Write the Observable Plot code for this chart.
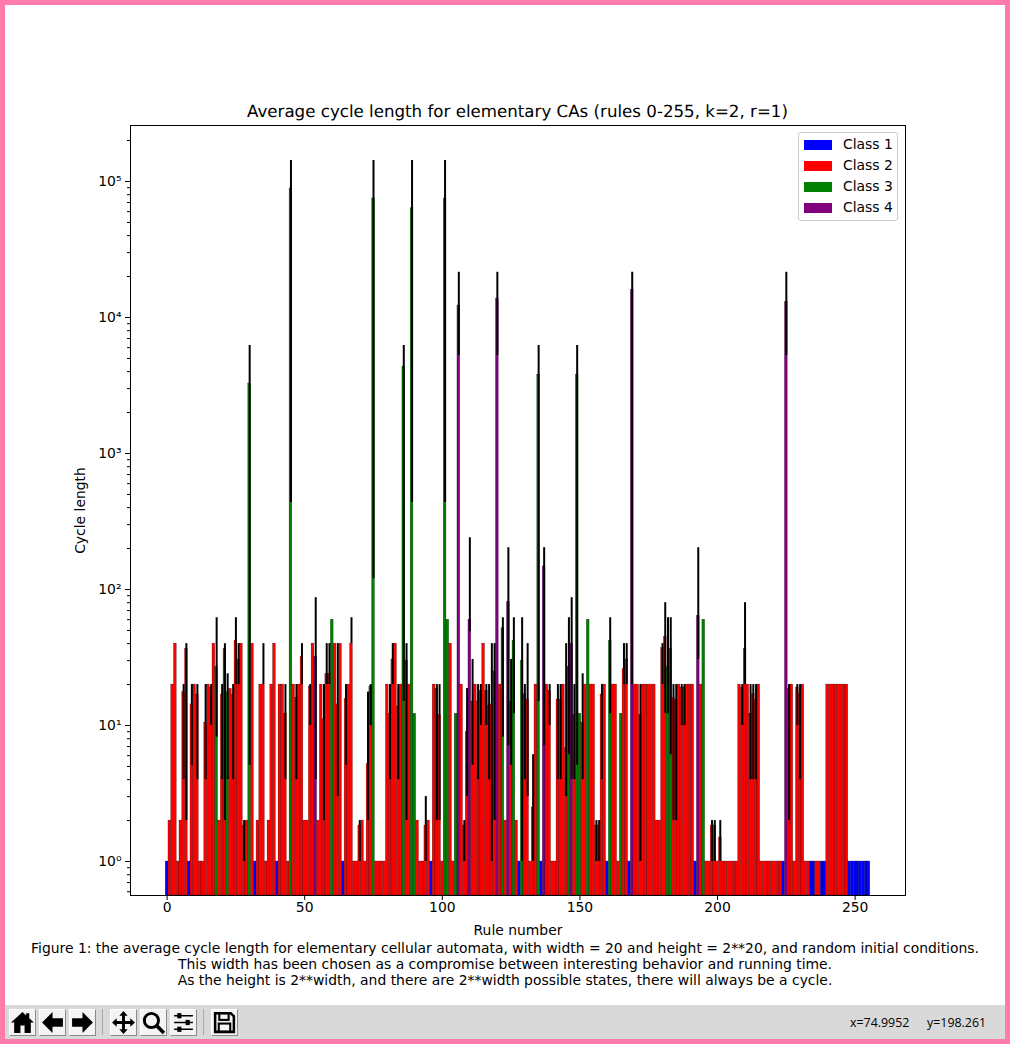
<!DOCTYPE html>
<html>
<head>
<meta charset="utf-8">
<script src="https://cdn.jsdelivr.net/npm/d3@7"></script>
<script src="https://cdn.jsdelivr.net/npm/@observablehq/plot@0.6"></script>
<style>
  html, body { margin: 0; padding: 0; background: #fff; }
  body { width: 1010px; height: 1044px; position: relative; overflow: hidden; font-family: "DejaVu Sans", sans-serif; color: #000; }
  #frame { position: absolute; left: 0; top: 0; width: 1000px; height: 1034px; border: 5px solid #ff7bac; background: #fff; }
  #chart { position: absolute; left: 5px; top: 110px; }
  #title { position: absolute; left: 130px; width: 775px; top: 101px; text-align: center; font-size: 16.67px; line-height: 22px; text-rendering: geometricPrecision; white-space: nowrap; }
  #caption { position: absolute; left: 5px; width: 1000px; top: 940px; text-align: center; font-size: 13.9px; line-height: 16px; }
  #legend { position: absolute; left: 798px; top: 132px; width: 98px; height: 87px; border: 1px solid #ccc; border-radius: 3px; background: rgba(255,255,255,.8); }
  .lg { position: absolute; left: 5px; height: 21px; font-size: 13.9px; line-height: 21px; white-space: nowrap; }
  .lg i { display: inline-block; width: 28px; height: 10px; margin-right: 11px; vertical-align: -1px; }
  #toolbar { position: absolute; left: 5px; top: 1005px; width: 1000px; height: 34px; background: #d9d9d9; }
  .btn { position: absolute; top: 4px; width: 25px; height: 25px; background: #f4f4f4; border: 1px solid; border-color: #fff #8a8a8a #8a8a8a #fff; }
  .sep { position: absolute; top: 4px; width: 1px; height: 26px; background: #aaa; }
  .status { position: absolute; top: 9px; font-family: "Open Sans", sans-serif; font-size: 12.4px; line-height: 17px; color: #000; }
</style>
</head>
<body>
<div id="frame"></div>
<div id="title">Average cycle length for elementary CAs (rules 0-255, k=2, r=1)</div>
<div id="chart"></div>
<div id="legend"></div>
<div id="caption">Figure 1: the average cycle length for elementary cellular automata, with width = 20 and height = 2**20, and random initial conditions.<br>This width has been chosen as a compromise between interesting behavior and running time.<br>As the height is 2**width, and there are 2**width possible states, there will always be a cycle.</div>
<div id="toolbar"></div>
<script>
// Mean cycle length for each rule, ten rules to a line (0-255).
const meanLength = [
  1, 2, 20, 40, 1, 2, 17.6, 36.6, 1, 14.3,
  20, 16.9, 1, 1, 10.5, 20, 19, 40, 27, 2,
  16.9, 36.6, 17.6, 18.6, 16.9, 42, 30.6, 40, 1.84, 2,
  3270, 40, 1, 2, 20, 20, 1, 2, 20, 40,
  1, 20, 20, 12.2, 1, 88900, 20, 16, 20, 32,
  2, 2, 19.4, 40, 32, 2, 20, 11.1, 24, 24,
  60, 40, 14.3, 40, 1, 15.7, 20, 40, 1, 1,
  1.84, 2, 1, 5.2, 19.4, 75000, 1, 1, 1, 1,
  20, 12.2, 30.6, 40, 13.8, 20, 4360, 30, 20, 63500,
  12.2, 2, 1, 1, 1.84, 2, 1, 20, 18.6, 12,
  1, 75000, 60, 40, 1, 12.2, 12250, 20, 1.84, 9,
  60, 15, 20, 15, 18, 40, 18, 14, 14.3, 25,
  13800, 20, 52, 2, 81, 15, 42, 2, 1, 30,
  17, 15.5, 1, 2.5, 20, 3800, 1, 148, 20, 18,
  1, 1, 15.5, 15.5, 20, 6.8, 27, 40, 12, 3800,
  12.2, 10.5, 20, 60, 20, 20, 1.84, 1.84, 16.9, 20,
  1, 42, 20, 20, 1, 12.2, 26, 30.6, 1, 16000,
  20, 20, 12, 20, 20, 20, 20, 20, 2, 2,
  37, 45, 27, 36.6, 16, 15.5, 20, 19, 19, 20,
  20, 20, 1, 64, 20, 60, 1, 1, 1.84, 1.84,
  1, 1.5, 1, 1, 1, 1, 1, 1, 20, 19,
  36.6, 20, 12.2, 17, 15.5, 20, 1, 1, 1, 1,
  1, 1, 1, 1, 1, 13000, 18.6, 20, 1, 19,
  17, 20, 1, 1, 1, 1, 1, 1, 1, 1,
  20, 20, 20, 20, 20, 20, 20, 20, 1, 1,
  1, 1, 1, 1, 1, 1
];
// Wolfram class of the rules that are not class 2.
const class1Rules = [0, 8, 32, 40, 64, 96, 128, 136, 160, 168, 192, 224, 234, 235, 238, 239, 248, 249, 250, 251, 252, 253, 254, 255];
const class3Rules = [18, 22, 30, 45, 60, 75, 86, 89, 90, 101, 102, 105, 122, 126, 129, 135, 146, 149, 150, 153, 161, 165, 182, 183, 195];
const class4Rules = [54, 106, 110, 120, 124, 137, 147, 169, 193, 225];

// Error bars: rule, lower end, upper end.
const errRules = [6, 7, 9, 11, 14, 16, 18, 20, 21, 22, 24, 25, 26, 28, 30, 35, 43, 45, 47, 49, 52, 54, 57, 58, 59, 62, 65, 67, 70, 73, 74, 75, 81, 82, 84, 86, 87, 89, 94, 98, 99, 101, 106, 108, 109, 110, 111, 113, 114, 116, 117, 118, 119, 120, 122, 124, 125, 126, 129, 130, 131, 133, 135, 137, 139, 142, 143, 145, 146, 147, 148, 149, 151, 156, 157, 158, 161, 166, 167, 169, 172, 180, 181, 182, 183, 184, 185, 187, 188, 193, 198, 199, 201, 209, 210, 212, 213, 214, 225, 226, 229, 230];
const errLow = [4, 2, 5.1, 4, 4, 10, 8.2, 4, 2, 4, 4, 20, 20, 1, 5.1, 20, 4, 437, 4, 20, 10, 4, 2, 20, 20, 3, 5.1, 40, 1, 2, 10, 120, 4, 20, 4, 15, 2, 437, 1, 2, 2, 437, 5250, 1, 3, 49, 5.1, 4, 10, 10, 4, 1, 2, 5250, 8.2, 7.1, 5.1, 12.2, 1, 4, 3, 1, 15, 7.1, 10, 4, 4, 3, 6.1, 4, 4, 5.1, 4, 1, 1, 4, 12.2, 20, 20, 20, 1, 20, 12.2, 12.2, 6.1, 2, 2, 10, 10, 30.6, 1, 1, 1, 10, 20, 4, 4, 4, 5250, 2, 10, 4];
const errHigh = [20, 40, 20, 20, 20, 20, 62, 20, 40, 24, 20, 62, 40, 2, 6226, 40, 20, 142600, 20, 40, 20, 87, 20, 40, 40, 40, 20, 62, 2, 17.6, 20, 142600, 20, 40, 20, 6226, 40, 142600, 3, 20, 20, 142600, 21500, 2, 18.7, 240, 30.6, 20, 20, 20, 20, 40, 40, 21500, 62, 203, 30.6, 62, 62, 20, 40, 6.1, 6226, 203, 20, 20, 20, 40, 62, 87, 20, 6226, 24, 2, 2, 20, 62, 40, 40, 21500, 20, 40, 80, 62, 62, 20, 20, 20, 20, 203, 2, 2, 2, 20, 80, 20, 20, 20, 21500, 20, 20, 20];

const classNames = ["Class 1", "Class 2", "Class 3", "Class 4"];
const classColors = ["blue", "red", "green", "purple"];
const yMajorTicks = [1, 10, 100, 1000, 10000, 100000];
const yMajorLabels = ["10⁰", "10¹", "10²", "10³", "10⁴", "10⁵"];
const xTicks = [0, 50, 100, 150, 200, 250];
const yDomain = [0.5625, 258000];
const xDomain = [-13.3, 268.3];

const classOf = r => class1Rules.includes(r) ? classNames[0]
  : class3Rules.includes(r) ? classNames[2]
  : class4Rules.includes(r) ? classNames[3] : classNames[1];

const yMinorTicks = [];
for (const decade of [0.1, 1, 10, 100, 1000, 10000, 100000]) {
  for (const m of [2, 3, 4, 5, 6, 7, 8, 9]) {
    const v = decade * m;
    if (v >= yDomain[0] && v <= yDomain[1]) yMinorTicks.push(v);
  }
}

const plot = Plot.plot({
  width: 1000,
  height: 830,
  marginTop: 15,
  marginBottom: 45,
  marginLeft: 125,
  marginRight: 100,
  style: { fontFamily: "DejaVu Sans, sans-serif", fontSize: "13.9px", background: "transparent", color: "#000" },
  x: { domain: xDomain },
  y: { type: "log", domain: yDomain },
  color: { domain: classNames, range: classColors },
  marks: [
    Plot.rect(meanLength, {
      x1: (d, i) => i - 0.5,
      x2: (d, i) => i + 0.5,
      y1: yDomain[0],
      y2: d => d,
      fill: (d, i) => classOf(i),
      stroke: "#000",
      strokeWidth: 0.35,
      strokeOpacity: 0.7
    }),
    Plot.ruleX(errRules, {
      x: d => d,
      y1: (d, i) => errLow[i],
      y2: (d, i) => errHigh[i],
      stroke: "#000",
      strokeWidth: 2
    }),
    Plot.frame({ stroke: "#000", strokeWidth: 1 }),
    Plot.axisX({ ticks: xTicks, tickSize: 5, tickPadding: 2, tickFormat: d => String(d), label: "Rule number", labelAnchor: "center", labelArrow: "none", labelOffset: 39, fontSize: 13.9, stroke: "#000" }),
    Plot.axisY({ ticks: yMajorTicks, tickSize: 5, tickPadding: 4, tickFormat: d => yMajorLabels[yMajorTicks.indexOf(d)], label: "Cycle length", labelAnchor: "center", labelArrow: "none", labelOffset: 55, fontSize: 13.9, stroke: "#000" }),
    Plot.axisY({ ticks: yMinorTicks, tickSize: 3, tickFormat: () => "", label: null, stroke: "#000" })
  ]
});
document.getElementById("chart").appendChild(plot);

// Legend
const legend = document.getElementById("legend");
classNames.forEach((name, i) => {
  const row = document.createElement("div");
  row.className = "lg";
  row.style.top = (i * 21 + 1) + "px";
  const sw = document.createElement("i");
  sw.style.background = classColors[i];
  row.appendChild(sw);
  row.appendChild(document.createTextNode(name));
  legend.appendChild(row);
});

// Toolbar
const icons = [
  [4, '<path d="M12 2 L15.5 5.2 L15.5 3 L18.5 3 L18.5 8 L23 12 L20 12 L20 22 L14 22 L14 15 L10 15 L10 22 L4 22 L4 12 L1 12 Z" fill="#000"/>'],
  [34, '<path d="M12 2 L2 12 L12 22 L12 16 L22 16 L22 8 L12 8 Z" fill="#000"/>'],
  [64, '<path d="M12 2 L22 12 L12 22 L12 16 L2 16 L2 8 L12 8 Z" fill="#000"/>'],
  [105, '<path d="M12 1 L16 5.5 L13.4 5.5 L13.4 10.6 L18.5 10.6 L18.5 8 L23 12 L18.5 16 L18.5 13.4 L13.4 13.4 L13.4 18.5 L16 18.5 L12 23 L8 18.5 L10.6 18.5 L10.6 13.4 L5.5 13.4 L5.5 16 L1 12 L5.5 8 L5.5 10.6 L10.6 10.6 L10.6 5.5 L8 5.5 Z" fill="#000"/>'],
  [135, '<circle cx="10" cy="10" r="6.8" fill="none" stroke="#000" stroke-width="2.8"/><path d="M15 15 L22 22" stroke="#000" stroke-width="3.4"/>'],
  [165, '<path d="M3 5.5 H21 M3 12 H21 M3 18.5 H21" stroke="#000" stroke-width="1.6"/><rect x="6" y="3" width="4" height="5" fill="#000"/><rect x="14" y="9.5" width="4" height="5" fill="#000"/><rect x="6" y="16" width="4" height="5" fill="#000"/>'],
  [206, '<path d="M3 3 H18 L21 6 V21 H3 Z" fill="none" stroke="#000" stroke-width="2.4"/><rect x="7" y="3" width="9" height="6.5" fill="none" stroke="#000" stroke-width="2"/><rect x="6.5" y="13" width="11" height="8" fill="none" stroke="#000" stroke-width="2"/>']
];
const toolbar = document.getElementById("toolbar");
for (const [left, path] of icons) {
  const b = document.createElement("div");
  b.className = "btn";
  b.style.left = left + "px";
  b.innerHTML = '<svg width="25" height="25" viewBox="0 0 24 24" style="display:block">' + path + '</svg>';
  toolbar.appendChild(b);
}
for (const left of [97, 198]) {
  const s = document.createElement("div");
  s.className = "sep";
  s.style.left = left + "px";
  toolbar.appendChild(s);
}
[["x=74.9952", 845], ["y=198.261", 922]].forEach(([t, left]) => {
  const s = document.createElement("div");
  s.className = "status";
  s.style.left = left + "px";
  s.textContent = t;
  toolbar.appendChild(s);
});
</script>
</body>
</html>
